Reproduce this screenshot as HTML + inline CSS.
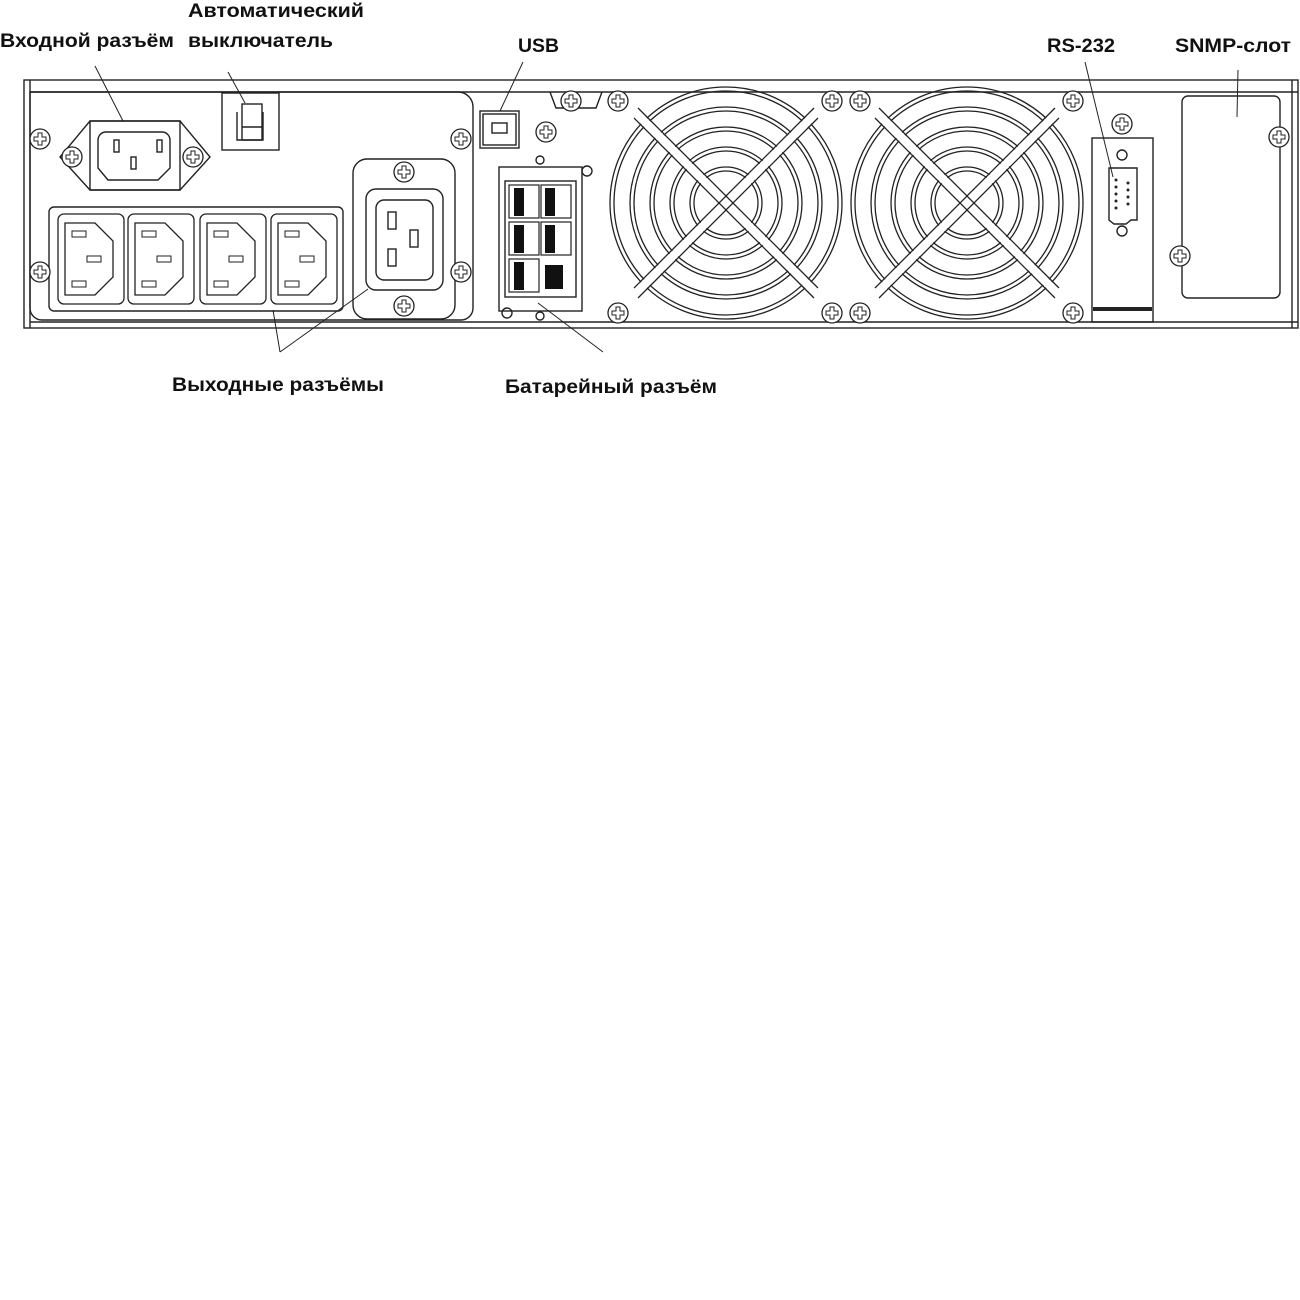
<!DOCTYPE html>
<html><head><meta charset="utf-8"><style>html,body{margin:0;padding:0;background:#fff;width:1300px;height:1300px;overflow:hidden}</style></head>
<body>
<svg width="1300" height="1300" viewBox="0 0 1300 1300" xmlns="http://www.w3.org/2000/svg" font-family="Liberation Sans, sans-serif" font-weight="bold" font-size="19">
<defs>
<g id="scr"><circle r="10" fill="#fff" stroke="#222" stroke-width="1.3"/><path d="M-2,-6h4v4h4v4h-4v4h-4v-4h-4v-4h4z" fill="none" stroke="#222" stroke-width="1"/></g>
<g id="c13"><rect x="-33" y="-45" width="66" height="90" rx="6" fill="#fff" stroke="#222" stroke-width="1.3"/><path d="M-26,-36h30l18,18v36l-18,18h-30z" fill="none" stroke="#222" stroke-width="1.3"/><rect x="-19" y="-28" width="14" height="6" fill="none" stroke="#222"/><rect x="-19" y="22" width="14" height="6" fill="none" stroke="#222"/><rect x="-4" y="-3" width="14" height="6" fill="none" stroke="#222"/></g>
</defs>
<g fill="none" stroke="#222" stroke-width="1.4">
<rect x="24" y="80" width="1274" height="248"/>
<line x1="30" y1="92" x2="1298" y2="92"/>
<line x1="30" y1="322" x2="1298" y2="322"/>
<line x1="30" y1="80" x2="30" y2="328"/>
<line x1="1292" y1="80" x2="1292" y2="328"/>
<path d="M30,92H458a15,15 0 0 1 15,15V308a12,12 0 0 1 -12,12H42a12,12 0 0 1 -12,-12z"/>
<path d="M90,121h90l30,36l-30,33h-90l-30,-33z"/>
<rect x="90" y="121" width="90" height="69"/>
<path d="M106,132h56a8,8 0 0 1 8,8v28l-12,12h-50l-10,-12v-28a8,8 0 0 1 8,-8z"/>
<rect x="114" y="140" width="5" height="12"/><rect x="157" y="140" width="5" height="12"/><rect x="131" y="157" width="5" height="12"/>
<rect x="222" y="93" width="57" height="57"/>
<rect x="242" y="104" width="20" height="36"/><path d="M237,112v28h26v-28"/><line x1="242" y1="127" x2="262" y2="127"/>
<rect x="49" y="207" width="294" height="104" rx="5"/>
<rect x="353" y="159" width="102" height="160" rx="14"/>
<rect x="366" y="189" width="77" height="101" rx="10"/>
<rect x="376" y="200" width="57" height="80" rx="8"/>
<rect x="388" y="212" width="8" height="17"/><rect x="388" y="249" width="8" height="17"/><rect x="410" y="230" width="8" height="17"/>
<rect x="480" y="111" width="39" height="37"/><rect x="483" y="114" width="33" height="31"/><rect x="492" y="123" width="15" height="10"/>
<path d="M550,92l6,16h40l6,-16"/>
<rect x="499" y="167" width="83" height="144"/>
<rect x="505" y="181" width="71" height="116"/>
<circle cx="540" cy="160" r="4"/><circle cx="587" cy="171" r="5"/><circle cx="540" cy="316" r="4"/><circle cx="507" cy="313" r="5"/>
<rect x="1092" y="138" width="61" height="184"/>
<path d="M1109,168h28v52h-6l-5,4h-12l-5,-4z" rx="3"/>
<circle cx="1122" cy="155" r="5"/><circle cx="1122" cy="231" r="5"/>
<rect x="1182" y="96" width="98" height="202" rx="6"/>
</g>
<rect x="1093" y="307" width="59" height="4" fill="#222"/>
<g fill="#222">
<circle cx="1116" cy="180" r="1.5"/><circle cx="1116" cy="187" r="1.5"/><circle cx="1116" cy="194" r="1.5"/><circle cx="1116" cy="201" r="1.5"/><circle cx="1116" cy="208" r="1.5"/>
<circle cx="1128" cy="183" r="1.5"/><circle cx="1128" cy="190" r="1.5"/><circle cx="1128" cy="197" r="1.5"/><circle cx="1128" cy="204" r="1.5"/>
</g>
<!-- battery cells -->
<g stroke="#222" stroke-width="1.2" fill="#fff">
<rect x="509" y="185" width="30" height="33"/><rect x="541" y="185" width="30" height="33"/>
<rect x="509" y="222" width="30" height="33"/><rect x="541" y="222" width="30" height="33"/>
<rect x="509" y="259" width="30" height="33"/>
</g>
<g fill="#111">
<rect x="514" y="188" width="10" height="28"/><rect x="545" y="188" width="10" height="28"/>
<rect x="514" y="225" width="10" height="28"/><rect x="545" y="225" width="10" height="28"/>
<rect x="514" y="262" width="10" height="28"/><rect x="545" y="265" width="18" height="24"/>
</g>
<use href="#c13" x="91" y="259"/><use href="#c13" x="161" y="259"/><use href="#c13" x="233" y="259"/><use href="#c13" x="304" y="259"/>
<!-- fans -->
<g fill="none" stroke="#222" stroke-width="1.3">
<g id="fan">
<circle cx="726" cy="203" r="116"/><circle cx="726" cy="203" r="112"/>
<circle cx="726" cy="203" r="96"/><circle cx="726" cy="203" r="92"/>
<circle cx="726" cy="203" r="76"/><circle cx="726" cy="203" r="72"/>
<circle cx="726" cy="203" r="56"/><circle cx="726" cy="203" r="52"/>
<circle cx="726" cy="203" r="36"/><circle cx="726" cy="203" r="32"/>
<path d="M636,113l90,90l90,-90" stroke="#fff" stroke-width="8"/>
<path d="M636,293l90,-90l90,90" stroke="#fff" stroke-width="8"/>
<path d="M634,118l92,92l92,-92M638,108l88,88l88,-88"/>
<path d="M634,288l92,-92l92,92M638,298l88,-88l88,88"/>
</g>
<use href="#fan" x="241"/>
</g>
<g>
<use href="#scr" x="72" y="157"/><use href="#scr" x="193" y="157"/>
<use href="#scr" x="40" y="139"/><use href="#scr" x="40" y="272"/><use href="#scr" x="461" y="139"/><use href="#scr" x="461" y="272"/>
<use href="#scr" x="404" y="172"/><use href="#scr" x="404" y="306"/>
<use href="#scr" x="546" y="132"/><use href="#scr" x="571" y="101"/>
<use href="#scr" x="618" y="101"/><use href="#scr" x="832" y="101"/><use href="#scr" x="618" y="313"/><use href="#scr" x="832" y="313"/>
<use href="#scr" x="860" y="101"/><use href="#scr" x="1073" y="101"/><use href="#scr" x="860" y="313"/><use href="#scr" x="1073" y="313"/>
<use href="#scr" x="1122" y="124"/><use href="#scr" x="1279" y="137"/><use href="#scr" x="1180" y="256"/>
</g>
<g stroke="#222" stroke-width="1">
<line x1="95" y1="66" x2="123" y2="121"/><line x1="228" y1="72" x2="245" y2="103"/>
<line x1="523" y1="62" x2="500" y2="111"/><line x1="1085" y1="62" x2="1113" y2="177"/>
<line x1="1238" y1="70" x2="1237" y2="117"/>
<line x1="280" y1="352" x2="273" y2="310"/><line x1="280" y1="352" x2="368" y2="289"/>
<line x1="538" y1="303" x2="603" y2="352"/>
</g>
<g fill="#111">
<text x="0" y="47" textLength="174" lengthAdjust="spacingAndGlyphs">Входной разъём</text>
<text x="188" y="17" textLength="176" lengthAdjust="spacingAndGlyphs">Автоматический</text>
<text x="188" y="47" textLength="145" lengthAdjust="spacingAndGlyphs">выключатель</text>
<text x="518" y="52" textLength="41" lengthAdjust="spacingAndGlyphs">USB</text>
<text x="1047" y="52" textLength="68" lengthAdjust="spacingAndGlyphs">RS-232</text>
<text x="1175" y="52" textLength="116" lengthAdjust="spacingAndGlyphs">SNMP-слот</text>
<text x="172" y="391" textLength="212" lengthAdjust="spacingAndGlyphs">Выходные разъёмы</text>
<text x="505" y="393" textLength="212" lengthAdjust="spacingAndGlyphs">Батарейный разъём</text>
</g>
</svg>
</body></html>
